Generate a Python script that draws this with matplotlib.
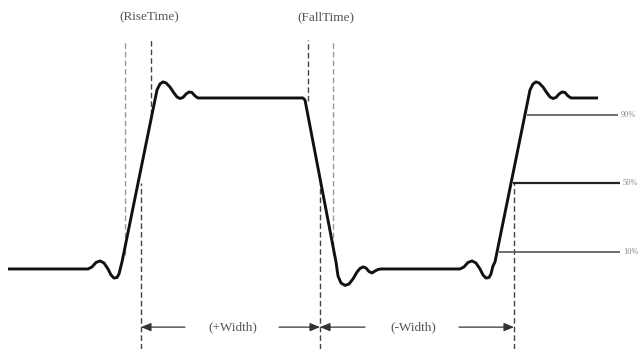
import matplotlib
matplotlib.use("Agg")
import matplotlib.pyplot as plt

# ---- data: pulse waveform (time in display units, amplitude in % of pulse height) ----
wave_t = [8, 88, 92, 96, 100, 104, 108, 111, 114, 117, 119, 121, 122, 157,
          160, 163, 166, 170, 174, 177, 180, 183, 186, 189, 192, 195, 198,
          303, 305, 336, 338, 341, 345, 349, 353, 357, 360, 363, 366, 369, 372, 375, 378, 381,
          460, 464, 468, 472, 476, 480, 483, 486, 489, 491, 493, 495, 530,
          533, 536, 539, 543, 547, 550, 553, 556, 559, 562, 565, 568, 571, 598]
wave_v = [0, 0, 1.2, 3.8, 4.7, 3.5, 0, -3.5, -5.3, -5.0, -2.9, 1.8, 4.1, 104.7,
          108.2, 109.4, 108.8, 106.4, 102.9, 100.6, 99.7, 100.3, 102.3, 103.5, 103.2, 101.2, 100,
          100, 98.8, 4.1, -4.1, -8.2, -9.6, -8.8, -5.8, -1.8, 0.3, 1.2, 0.6, -1.5, -2.3, -1.2, -0.3, 0,
          0, 1.2, 3.8, 4.7, 3.5, 0, -3.5, -5.3, -5.0, -2.9, 1.8, 4.1, 104.7,
          108.2, 109.4, 108.8, 106.4, 102.9, 100.6, 99.7, 100.3, 102.3, 103.5, 103.2, 101.2, 100, 100]

# reference levels (%), their start/end times and labels
level_values = [90, 50, 10]
level_start = [527, 513, 499]
level_end = [618, 620, 620]
level_labels = ["90%", "50%", "10%"]

# measurement markers (time, bottom level, top level)
marker_t = [125, 151, 141, 308, 320, 333, 514]
marker_lo = [8, 90, -47, 98, -47, 8, -47]
marker_hi = [134, 134, 50, 134, 50, 134, 50]
marker_color = ["#9a9a9a", "#444444", "#444444", "#444444", "#444444", "#9a9a9a", "#444444"]

top_labels = ["(RiseTime)", "(FallTime)"]
top_label_t = [149, 326]
width_labels = ["(+Width)", "(-Width)"]
width_bounds = [(141, 320), (320, 514)]
width_label_t = [233, 413]

fig = plt.figure(figsize=(6.43, 3.49), dpi=100)
ax = fig.add_axes([0, 0, 1, 1])
ax.set_xlim(0, 643)
ax.set_ylim(-46.8, 157.3)
ax.axis("off")

# dashed markers
for t, lo, hi, c in zip(marker_t, marker_lo, marker_hi, marker_color):
    ax.plot([t, t], [lo, hi], color=c, lw=1.0, ls=(0, (4, 2.2)), zorder=1)

# level lines
for v, s, e, lab in zip(level_values, level_start, level_end, level_labels):
    col = "#222222" if v == 50 else "#555555"
    lw = 1.6 if v == 50 else 1.2
    ax.plot([s, e], [v, v], color=col, lw=lw, solid_capstyle="butt", zorder=2)
    ax.text(e + 3, v, lab, fontsize=6, color="#888888", va="center", ha="left",
            family="Liberation Serif")

# waveform
ax.plot(wave_t, wave_v, color="#111111", lw=2.1, solid_joinstyle="round",
        solid_capstyle="butt", zorder=3)

# top labels
for lab, t in zip(top_labels, top_label_t):
    ax.text(t, 147, lab, fontsize=9.5, color="#555555", ha="center", va="center",
            family="Liberation Serif")

# width arrows
arrow_v = -34
for (a, b), lab, tc in zip(width_bounds, width_labels, width_label_t):
    ax.annotate("", xy=(a, arrow_v), xytext=(tc - 48, arrow_v),
                arrowprops=dict(arrowstyle="-|>,head_length=0.6,head_width=0.25",
                                color="#333333", lw=0.9, shrinkA=0, shrinkB=0))
    ax.annotate("", xy=(b, arrow_v), xytext=(tc + 46, arrow_v),
                arrowprops=dict(arrowstyle="-|>,head_length=0.6,head_width=0.25",
                                color="#333333", lw=0.9, shrinkA=0, shrinkB=0))
    ax.text(tc, arrow_v, lab, fontsize=9.5, color="#555555", ha="center", va="center",
            family="Liberation Serif")

fig.savefig("out.png", dpi=100)
